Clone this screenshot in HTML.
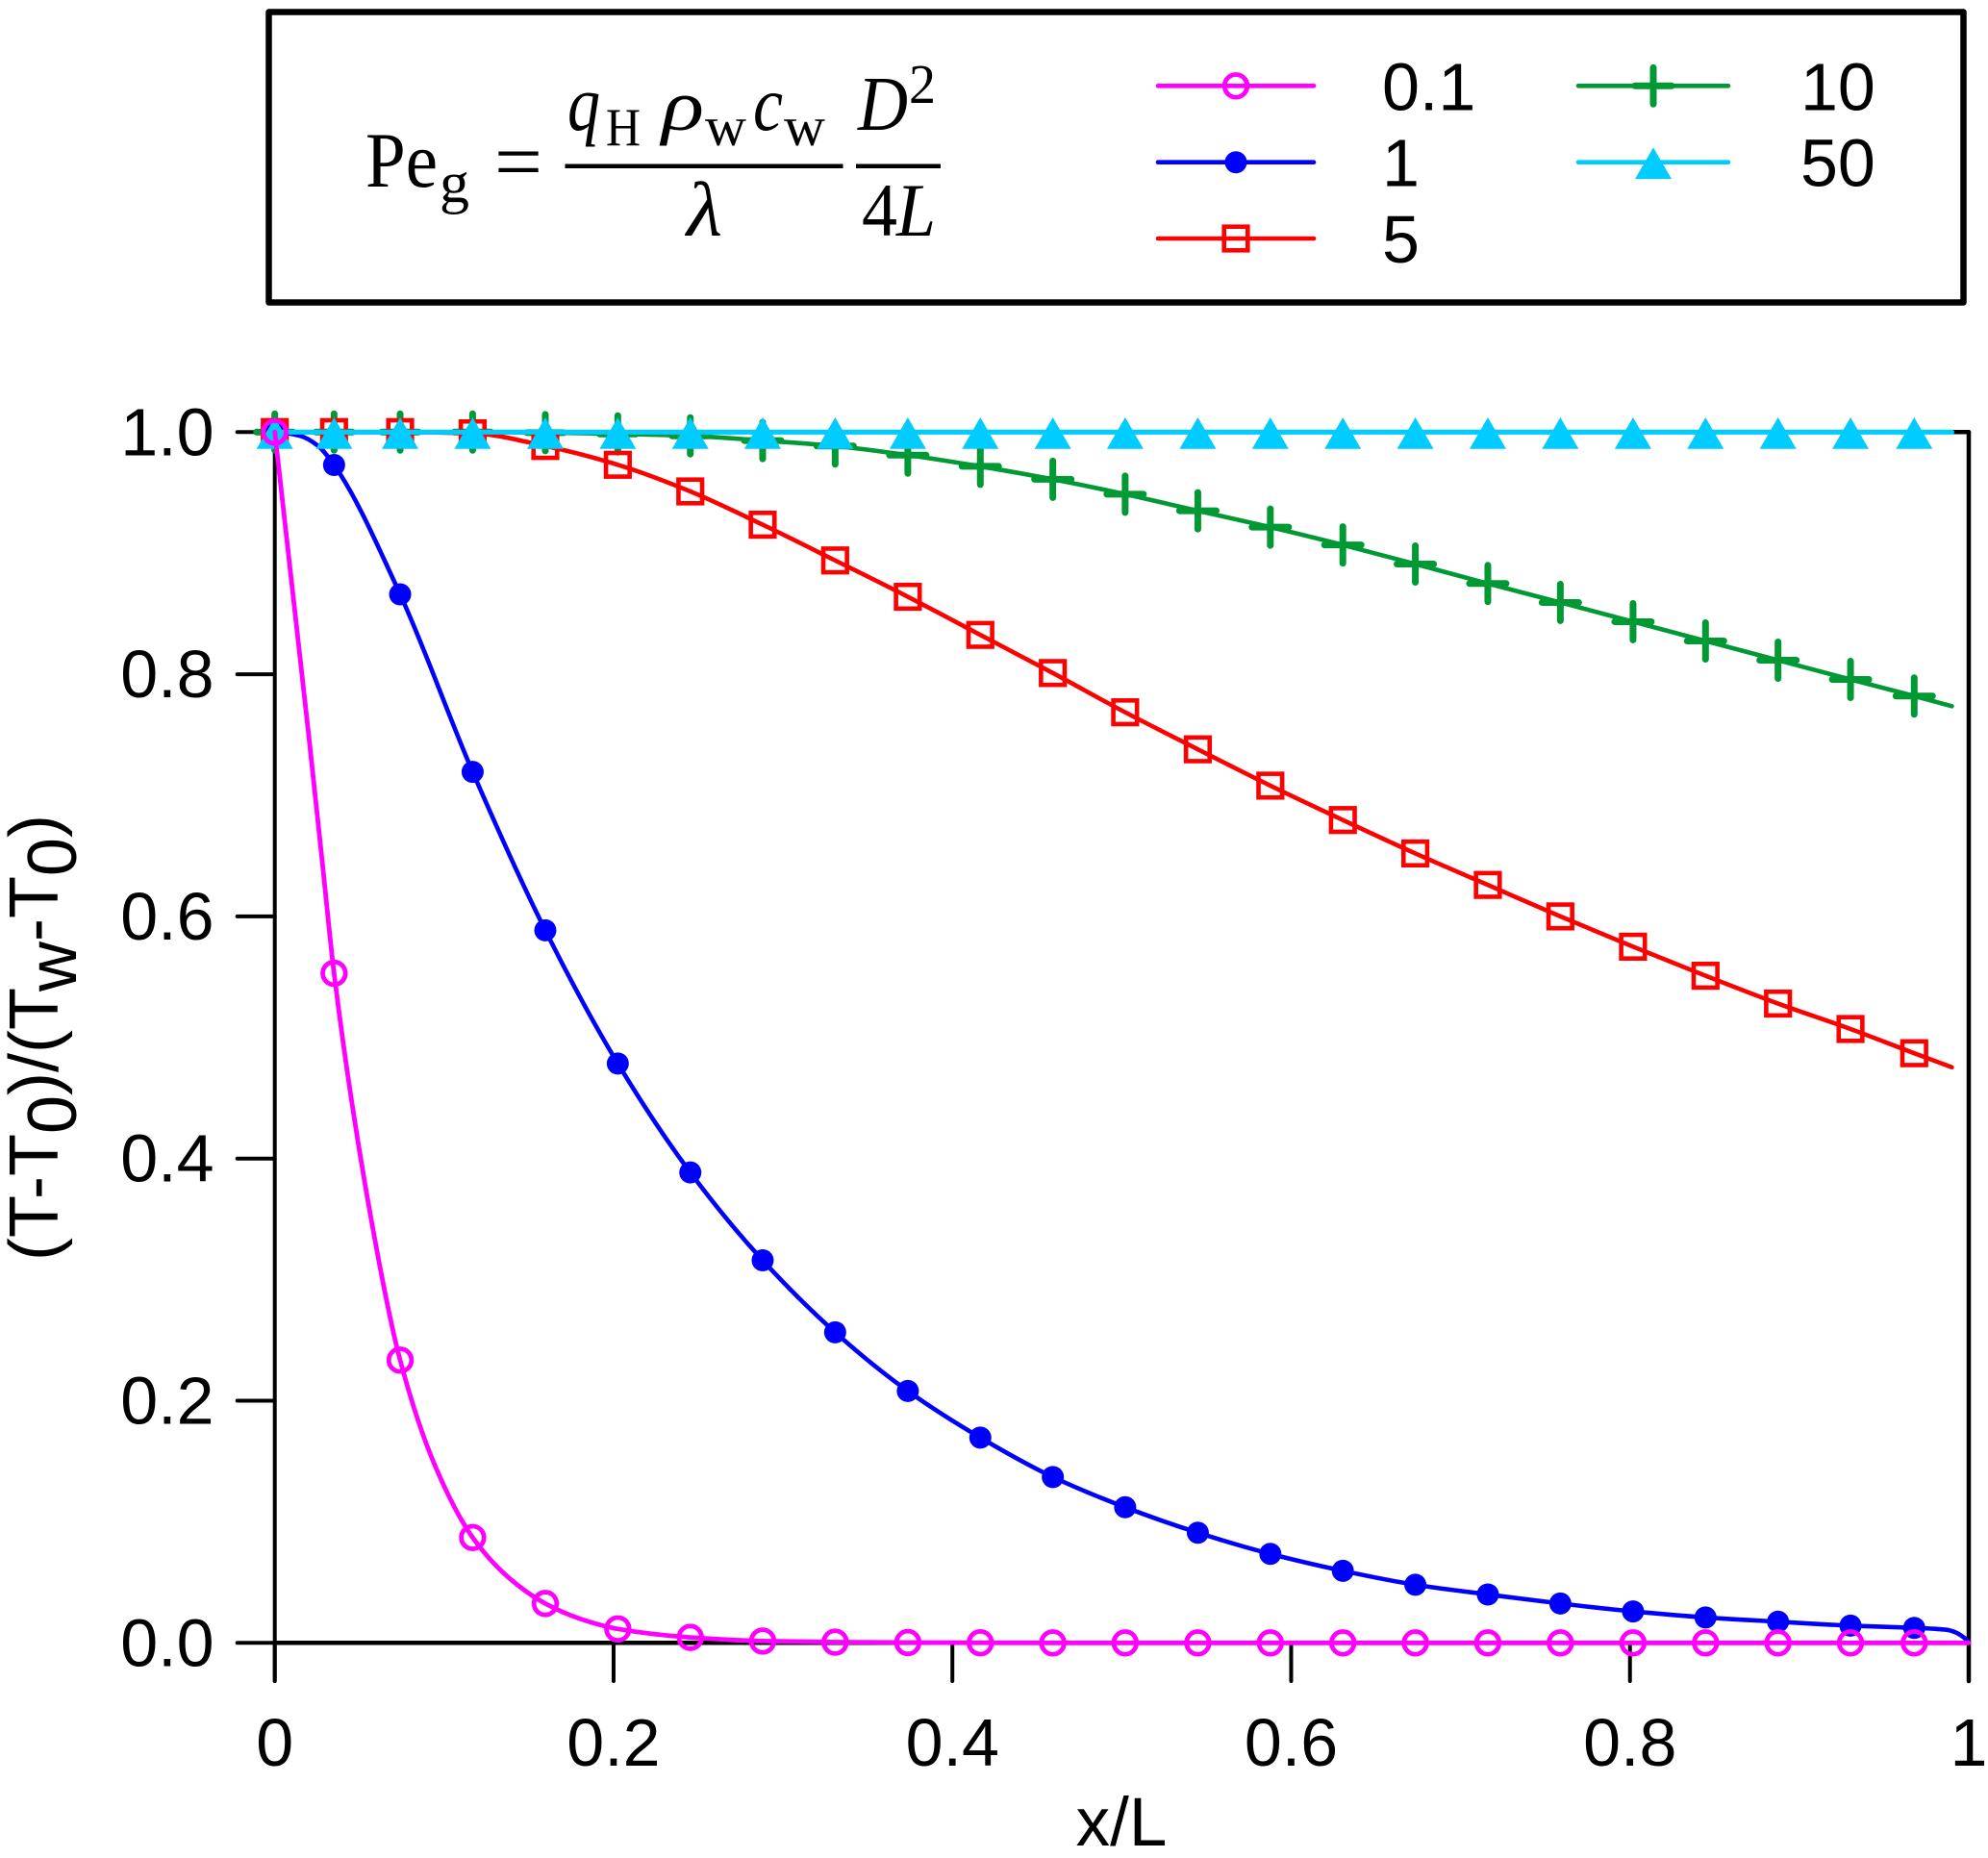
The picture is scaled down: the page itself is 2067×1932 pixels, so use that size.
<!DOCTYPE html>
<html lang="en">
<head>
<meta charset="utf-8">
<title>Dimensionless temperature along x/L</title>
<style>
html,body{margin:0;padding:0;background:#fff;}
svg{display:block;}
text{font-family:"Liberation Sans",Arial,sans-serif;fill:#000;}
.eq{font-family:"Liberation Serif","DejaVu Serif",serif;}
</style>
</head>
<body>
<svg id="chart" xmlns="http://www.w3.org/2000/svg" width="2067" height="1932" viewBox="0 0 2067 1932">
  <rect x="0" y="0" width="2067" height="1932" fill="#fff"/>
  <rect x="279.5" y="12.5" width="1762" height="302" fill="#fff" stroke="#000" stroke-width="6.5" stroke-linejoin="round"/>
  <g>
    <text class="eq" x="380" y="194" font-size="82" textLength="75" lengthAdjust="spacingAndGlyphs">Pe</text>
    <text class="eq" x="457" y="210" font-size="60" textLength="31" lengthAdjust="spacingAndGlyphs">g</text>
    <text class="eq" x="514" y="197" font-size="86" textLength="50" lengthAdjust="spacingAndGlyphs">=</text>
    <text class="eq" x="590" y="135" font-size="82" font-style="italic" textLength="34" lengthAdjust="spacingAndGlyphs">q</text>
    <text class="eq" x="630" y="151" font-size="56" textLength="36" lengthAdjust="spacingAndGlyphs">H</text>
    <text class="eq" x="688" y="135" font-size="76" font-style="italic" textLength="44" lengthAdjust="spacingAndGlyphs">ρ</text>
    <text class="eq" x="733" y="151" font-size="58" textLength="43" lengthAdjust="spacingAndGlyphs">w</text>
    <text class="eq" x="783" y="135" font-size="80" font-style="italic" textLength="31" lengthAdjust="spacingAndGlyphs">c</text>
    <text class="eq" x="815" y="151" font-size="58" textLength="43" lengthAdjust="spacingAndGlyphs">w</text>
    <rect x="587.5" y="170.5" width="289" height="4.5" fill="#000"/>
    <text class="eq" x="714" y="245" font-size="80" font-style="italic" textLength="37" lengthAdjust="spacingAndGlyphs">λ</text>
    <text class="eq" x="892" y="135" font-size="80" font-style="italic" textLength="52" lengthAdjust="spacingAndGlyphs">D</text>
    <text class="eq" x="945" y="107" font-size="58" textLength="28" lengthAdjust="spacingAndGlyphs">2</text>
    <rect x="890" y="170.5" width="88" height="4.5" fill="#000"/>
    <text class="eq" x="896" y="245" font-size="78" textLength="37" lengthAdjust="spacingAndGlyphs">4</text>
    <text class="eq" x="932" y="245" font-size="78" font-style="italic" textLength="41" lengthAdjust="spacingAndGlyphs">L</text>
  </g>
  <g id="legend"></g>
  <g id="axes"></g>
  <g id="series"></g>
  <text x="1166" y="1919" font-size="71" text-anchor="middle">x/L</text>
  <text transform="translate(60,1311) rotate(-90)" font-size="72">(T-T<tspan dy="19">0</tspan><tspan dy="-19">)/(T</tspan><tspan dy="19">w</tspan><tspan dy="-19">-T</tspan><tspan dy="19">0</tspan><tspan dy="-19">)</tspan></text>
</svg>
<script>
const markerX = [0,0.035,0.074,0.1168,0.1597,0.2025,0.2453,0.288,0.3308,0.3737,0.4165,0.4593,0.502,0.5449,0.5877,0.6305,0.6733,0.7161,0.7589,0.8018,0.8446,0.8874,0.9302,0.9678];
const valuesPe01 = [1,0.553,0.2335,0.087,0.0325,0.0115,0.0045,0.0015,0.0006,0.0003,0.0001,0,0,0,0,0,0,0,0,0,0,0,0,0];
const valuesPe1 = [1,0.9728,0.866,0.7194,0.5885,0.4785,0.3885,0.316,0.2565,0.208,0.1695,0.137,0.112,0.091,0.0735,0.0595,0.048,0.04,0.0325,0.026,0.021,0.0175,0.0142,0.0124];
const valuesPe5 = [1,1,1,0.999,0.9885,0.973,0.951,0.9235,0.894,0.864,0.8325,0.801,0.7686,0.738,0.708,0.6796,0.652,0.626,0.6,0.575,0.551,0.528,0.507,0.487];
const valuesPe10 = [1,1,1,1,0.9995,0.9985,0.9969,0.993,0.9885,0.981,0.9717,0.961,0.9487,0.935,0.9215,0.9068,0.891,0.8749,0.8593,0.8434,0.8275,0.8116,0.7957,0.782];
const valuesPe50 = [1,1,1,1,1,1,1,1,1,1,1,1,1,1,1,1,1,1,1,1,1,1,1,1];
const extraXPe01 = [0.01,0.02,0.0284,0.055,0.095,0.1388,0.18,1];
const extraYPe01 = [0.875,0.75,0.64,0.365,0.145,0.053,0.02,0];
const extraXPe1 = [0.005,0.0152,0.0253,0.98,0.987,0.992,0.996,0.999,1];
const extraYPe1 = [0.9995,0.9968,0.9889,0.0116,0.0108,0.0088,0.0056,0.002,0];
const extraXPe5 = [0.99];
const extraYPe5 = [0.4754];
const extraXPe10 = [0.99];
const extraYPe10 = [0.7736];
const extraXPe50 = [0.99];
const extraYPe50 = [1];
const xTickValues = [0,0.2,0.4,0.6,0.8,1];
const xTickLabels = ['0','0.2','0.4','0.6','0.8','1'];
const yTickValues = [0,0.2,0.4,0.6,0.8,1];
const yTickLabels = ['0.0','0.2','0.4','0.6','0.8','1.0'];
const legendLabels = ['0.1','1','5','10','50'];

const NS = 'http://www.w3.org/2000/svg';
const AX = {left:285.7, right:2047, zero:1708.3, one:449.3, tickEnd:1748, tickLeft:246.7};
const sx = v => AX.left + v * (AX.right - AX.left);
const sy = v => AX.zero - v * (AX.zero - AX.one);

function mk(tag, parent, attrs) {
  const el = document.createElementNS(NS, tag);
  for (const k in attrs) el.setAttribute(k, attrs[k]);
  parent.appendChild(el);
  return el;
}

function axisLine(parent, x1, y1, x2, y2, w, name) {
  const el = mk('line', parent, {x1, y1, x2, y2, stroke:'#000', 'stroke-width':w, 'stroke-linecap':'round'});
  
  
  return el;
}

function curvePath(px, py) {
  const n = px.length, sec = [], m = [];
  for (let i = 0; i < n - 1; i++) sec.push((py[i+1] - py[i]) / (px[i+1] - px[i]));
  for (let i = 0; i < n; i++) {
    if (i === 0) m.push(sec[0]);
    else if (i === n - 1) m.push(sec[n-2]);
    else if (sec[i-1] * sec[i] <= 0) m.push(0);
    else {
      const h0 = px[i] - px[i-1], h1 = px[i+1] - px[i];
      m.push((h0 + h1) * 3 / ((2*h1 + h0) / sec[i-1] + (h1 + 2*h0) / sec[i]));
    }
  }
  let d = 'M' + px[0].toFixed(2) + ' ' + py[0].toFixed(2);
  for (let i = 0; i < n - 1; i++) {
    const h = (px[i+1] - px[i]) / 3;
    d += 'C' + (px[i] + h).toFixed(2) + ' ' + (py[i] + m[i]*h).toFixed(2) + ' ' +
         (px[i+1] - h).toFixed(2) + ' ' + (py[i+1] - m[i+1]*h).toFixed(2) + ' ' +
         px[i+1].toFixed(2) + ' ' + py[i+1].toFixed(2);
  }
  return d;
}

function drawMarker(parent, type, cx, cy, color) {
  if (type === 'circle') {
    const el = mk('circle', parent, {cx, cy, r:11.8, fill:'none', stroke:color, 'stroke-width':4.8});
    
    
  } else if (type === 'dot') {
    const el = mk('circle', parent, {cx, cy, r:11.5, fill:color});
    
    
  } else if (type === 'square') {
    const el = mk('rect', parent, {x:cx-12.3, y:cy-12.3, width:24.6, height:24.6, fill:'none', stroke:color, 'stroke-width':4.6});
    
    
  } else if (type === 'plus') {
    const el = mk('path', parent, {d:'M'+(cx-19)+' '+cy+'H'+(cx+19)+'M'+cx+' '+(cy-19)+'V'+(cy+19), fill:'none', stroke:color, 'stroke-width':7, 'stroke-linecap':'round'});
    
    
  } else {
    const el = mk('path', parent, {d:'M'+cx+' '+(cy-15.3)+'L'+(cx+19)+' '+(cy+17.4)+'H'+(cx-19)+'Z', fill:color});
    
    
  }
}

const axes = document.getElementById('axes');
axisLine(axes, AX.left, AX.one, AX.right, AX.one, 4.5, 'top-frame-line');
axisLine(axes, AX.right, AX.one, AX.right, AX.tickEnd, 4.5, 'right-frame-line');
axisLine(axes, AX.left, AX.one, AX.left, AX.tickEnd, 4, 'y-axis-line');
axisLine(axes, AX.left, AX.zero, AX.right, AX.zero, 4.5, 'x-axis-line');

xTickValues.forEach((v, i) => {
  axisLine(axes, sx(v), AX.zero, sx(v), AX.tickEnd, 4, 'x-tick');
  const t = mk('text', axes, {x:sx(v), y:1836, 'font-size':70, 'text-anchor':'middle'});
  t.textContent = xTickLabels[i];
  
  
});
yTickValues.forEach((v, i) => {
  axisLine(axes, AX.tickLeft, sy(v), AX.left, sy(v), 4, 'y-tick');
  const t = mk('text', axes, {x:222.5, y:sy(v) + 24, 'font-size':70, 'text-anchor':'end'});
  t.textContent = yTickLabels[i];
  
  
});

const seriesKeys = ['pe-10','pe-5','pe-1','pe-50','pe-0-1'];
const seriesValues = [valuesPe10, valuesPe5, valuesPe1, valuesPe50, valuesPe01];
const seriesExtraX = [extraXPe10, extraXPe5, extraXPe1, extraXPe50, extraXPe01];
const seriesExtraY = [extraYPe10, extraYPe5, extraYPe1, extraYPe50, extraYPe01];
const seriesColors = ['#009933','#ff0000','#0000ff','#00ccff','#ff00ff'];
const seriesMarkers = ['plus','square','dot','triangle','circle'];
const seriesWidths = [4.6,4.6,4.6,5.2,4.8];

const seriesRoot = document.getElementById('series');
seriesKeys.forEach((key, s) => {
  const group = mk('g', seriesRoot, {});
  
  
  const pts = markerX.map((x, i) => [x, seriesValues[s][i]]);
  seriesExtraX[s].forEach((x, i) => pts.push([x, seriesExtraY[s][i]]));
  pts.sort((a, b) => a[0] - b[0]);
  const path = mk('path', group, {
    d: curvePath(pts.map(p => sx(p[0])), pts.map(p => sy(p[1]))),
    fill:'none', stroke:seriesColors[s], 'stroke-width':seriesWidths[s], 'stroke-linecap':'round', 'stroke-linejoin':'round'
  });
  
  
  markerX.forEach((x, i) => drawMarker(group, seriesMarkers[s], sx(x), sy(seriesValues[s][i]), seriesColors[s]));
});

const legendColors = ['#ff00ff','#0000ff','#ff0000','#009933','#00ccff'];
const legendMarkers = ['circle','dot','square','plus','triangle'];
const legendRowY = [89.3, 168.7, 248];
const legendLineStart = [1204, 1641];
const legendLineEnd = [1366, 1797];
const legendMarkerX = [1285, 1719];
const legendTextX = [1437, 1872];
const legendRoot = document.getElementById('legend');
legendLabels.forEach((label, i) => {
  const col = i < 3 ? 0 : 1;
  const row = i < 3 ? i : i - 3;
  const entry = mk('g', legendRoot, {});
  
  
  const y = legendRowY[row];
  const ln = mk('line', entry, {x1:legendLineStart[col], y1:y, x2:legendLineEnd[col], y2:y, stroke:legendColors[i], 'stroke-width':4.6, 'stroke-linecap':'round'});
  
  
  drawMarker(entry, legendMarkers[i], legendMarkerX[col], y, legendColors[i]);
  const t = mk('text', entry, {x:legendTextX[col], y:y + 25, 'font-size':70});
  t.textContent = label;
  
  
});
</script>
</body>
</html>
